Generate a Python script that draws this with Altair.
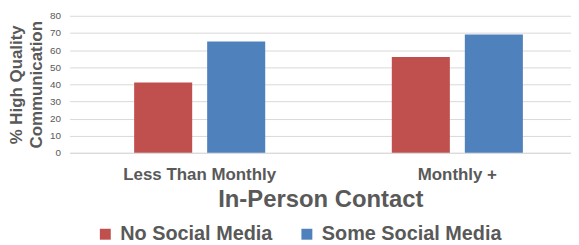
import altair as alt
import pandas as pd

categories = ["Less Than Monthly", "Monthly +"]
series = ["No Social Media", "Some Social Media"]
no_social = [41, 56]
some_social = [65, 69]
colors = ["#C0504D", "#4F81BD"]
y_ticks = [0, 10, 20, 30, 40, 50, 60, 70, 80]

rows = []
for i, c in enumerate(categories):
    rows.append({"contact": c, "group": series[0], "value": no_social[i]})
    rows.append({"contact": c, "group": series[1], "value": some_social[i]})
df = pd.DataFrame(rows)

FONT = "Liberation Sans"
GRAY = "#595959"

chart = alt.Chart(df).mark_bar().encode(
    x=alt.X(
        "contact:N",
        sort=categories,
        scale=alt.Scale(paddingInner=0.4913, paddingOuter=0.2187, align=0.573),
        axis=alt.Axis(
            title="In-Person Contact",
            labelAngle=0,
            labelFont=FONT,
            labelFontSize=17,
            labelFontWeight="bold",
            labelColor=GRAY,
            labelPadding=14,
            ticks=False,
            domainColor="#D9D9D9",
            domainWidth=1,
            titleFont=FONT,
            titleFontSize=24,
            titleFontWeight="bold",
            titleColor=GRAY,
            titlePadding=5,
        ),
    ),
    xOffset=alt.XOffset(
        "group:N",
        sort=series,
        scale=alt.Scale(paddingInner=0.205, paddingOuter=0),
    ),
    y=alt.Y(
        "value:Q",
        scale=alt.Scale(domain=[0, 80]),
        axis=alt.Axis(
            title=["% High Quality", "Communication"],
            values=y_ticks,
            labelFont=FONT,
            labelFontSize=10,
            labelColor=GRAY,
            labelPadding=9,
            ticks=False,
            domain=False,
            gridColor="#D9D9D9",
            gridWidth=1,
            titleFont=FONT,
            titleFontSize=17,
            titleFontWeight="bold",
            titleColor=GRAY,
            titleLineHeight=20,
            titlePadding=4,
        ),
    ),
    color=alt.Color(
        "group:N",
        sort=series,
        scale=alt.Scale(domain=series, range=colors),
        legend=alt.Legend(
            title=None,
            orient="none",
            direction="horizontal",
            legendX=26,
            legendY=210,
            symbolType="square",
            symbolSize=121,
            symbolStrokeWidth=0,
            symbolOpacity=1,
            labelFont=FONT,
            labelFontSize=20,
            labelFontWeight="bold",
            labelColor=GRAY,
            labelOffset=5,
            columnPadding=24,
            labelLimit=300,
        ),
    ),
).properties(
    width=505,
    height=138,
    autosize=alt.AutoSizeParams(type="none"),
    padding={"left": 62, "top": 7, "right": 0, "bottom": 90},
).configure_view(stroke=None)

chart.save("out.html", embed_options={"renderer": "svg", "actions": False})
